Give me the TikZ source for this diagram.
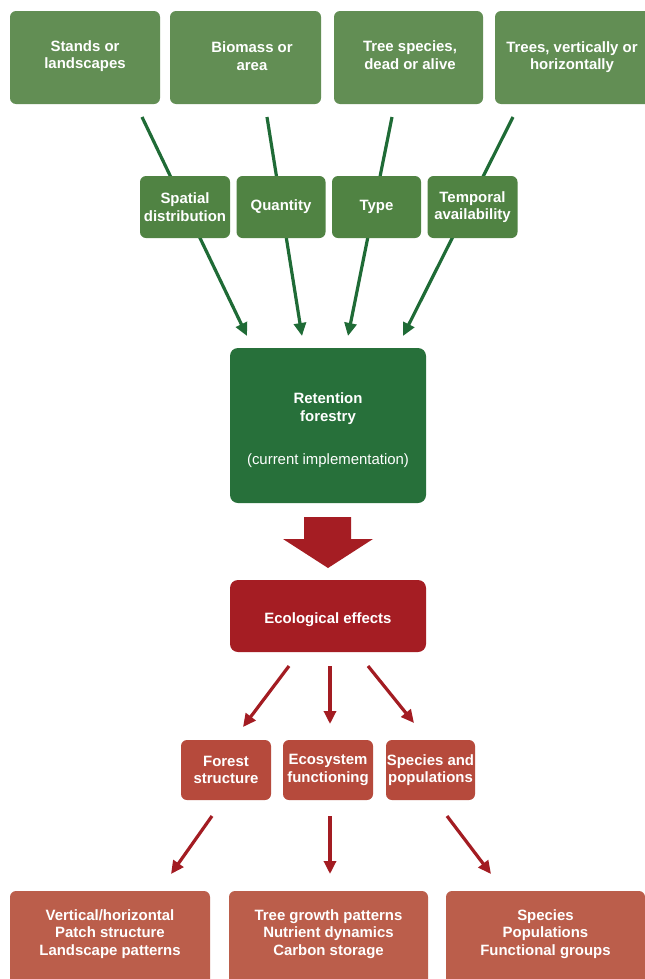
\documentclass[tikz,border=0pt]{standalone}
\usepackage{fontspec}
\setmainfont{Liberation Sans}
\usetikzlibrary{arrows.meta}
\definecolor{topgreen}{HTML}{628E54}
\definecolor{midgreen}{HTML}{508343}
\definecolor{retgreen}{HTML}{27703A}
\definecolor{arrgreen}{HTML}{1F6B36}
\definecolor{effred}{HTML}{A51D23}
\definecolor{arrred}{HTML}{A31C22}
\definecolor{secred}{HTML}{B64A3C}
\definecolor{botred}{HTML}{BB5E4B}
\tikzset{
  box/.style={rounded corners=6bp, inner sep=0pt, text=white, align=center,
    font=\fontsize{15}{17.5}\selectfont\bfseries},
  gline/.style={draw=arrgreen, line width=3.2bp, -{Triangle[length=13bp,width=12bp]}},
  rline/.style={draw=arrred, line width=3.2bp, -{Triangle[length=13bp,width=12bp]}},
}
\begin{document}
\begin{tikzpicture}[x=1bp,y=-1bp]
\fill[white] (0,0) rectangle (645,979);
\useasboundingbox (0,0) rectangle (645,979);

% top boxes
\fill[topgreen, rounded corners=6bp] (10,11) rectangle (160,104);
\fill[topgreen, rounded corners=6bp] (170,11) rectangle (321,104);
\fill[topgreen, rounded corners=6bp] (334,11) rectangle (483,104);
\fill[topgreen, rounded corners=6bp] (495,11) rectangle (651,104);
\node[box] (t1) at (85,56) {Stands or\\landscapes};
\node[box] (t2) at (252,56) {Biomass or\\area};
\node[box] (t3) at (410,55) {Tree species,\\dead or alive};
\node[box] (t4) at (572,57) {Trees, vertically or\\horizontally};

% line endpoints
\coordinate (s1) at (142,117); \coordinate (e1) at (247,336);
\coordinate (s2) at (267,117); \coordinate (e2) at (302,336);
\coordinate (s3) at (392,117); \coordinate (e3) at (348,336);
\coordinate (s4) at (513,117); \coordinate (e4) at (403,336);
\draw[gline] (s1) -- (e1);
\draw[gline] (s2) -- (e2);
\draw[gline] (s3) -- (e3);
\draw[gline] (s4) -- (e4);

% middle boxes
\node[box, fill=midgreen, minimum width=90bp, minimum height=62bp] (m1) at (185,207) {Spatial\\distribution};
\node[box, fill=midgreen, minimum width=89bp, minimum height=62bp] (m2) at (281,207) {Quantity};
\node[box, fill=midgreen, minimum width=89bp, minimum height=62bp] (m3) at (376.5,207) {Type};
\node[box, fill=midgreen, minimum width=90bp, minimum height=62bp] (m4) at (472.5,207) {Temporal\\availability};

% retention
\fill[retgreen, rounded corners=8bp] (230,348) rectangle (426,503);
\node[box] (ret) at (328,408.5) {Retention\\forestry};
\node[box, font=\fontsize{15}{17.5}\selectfont] (cur) at (328,461) {(current implementation)};

% big arrow
\fill[effred] (304,517) -- (351,517) -- (351,539) -- (373,539) -- (328,568) -- (283,539) -- (304,539) -- cycle;
\coordinate (bigtip) at (328,568);

% ecological effects
\fill[effred, rounded corners=8bp] (230,580) rectangle (426,652);
\node[box] (eco) at (328,620) {Ecological effects};

\coordinate (r1s) at (289,666); \coordinate (r1e) at (243,727);
\coordinate (r2s) at (330,666); \coordinate (r2e) at (330,724);
\coordinate (r3s) at (368,666); \coordinate (r3e) at (414,723);
\draw[rline] (r1s) -- (r1e);
\draw[rline] (r2s) -- (r2e);
\draw[rline] (r3s) -- (r3e);

% second level
\node[box, fill=secred, minimum width=90bp, minimum height=60bp] (f1) at (226,770) {Forest\\structure};
\node[box, fill=secred, minimum width=90bp, minimum height=60bp] (f2) at (328,770) {Ecosystem\\functioning};
\node[box, fill=secred, minimum width=89bp, minimum height=60bp] (f3) at (430.5,770) {Species and\\populations};

\coordinate (q1s) at (212,816); \coordinate (q1e) at (171,874);
\coordinate (q2s) at (330,816); \coordinate (q2e) at (330,874);
\coordinate (q3s) at (447,816); \coordinate (q3e) at (491,874);
\draw[rline] (q1s) -- (q1e);
\draw[rline] (q2s) -- (q2e);
\draw[rline] (q3s) -- (q3e);

% bottom boxes
\fill[botred, rounded corners=6bp] (10,891) rectangle (210,990);
\fill[botred, rounded corners=6bp] (229,891) rectangle (428,990);
\fill[botred, rounded corners=6bp] (446,891) rectangle (645,990);
\node[box] (b1) at (110,934) {Vertical/horizontal\\Patch structure\\Landscape patterns};
\node[box] (b2) at (328.5,934) {Tree growth patterns\\Nutrient dynamics\\Carbon storage};
\node[box] (b3) at (545.5,934) {Species\\Populations\\Functional groups};
\end{tikzpicture}
\end{document}
